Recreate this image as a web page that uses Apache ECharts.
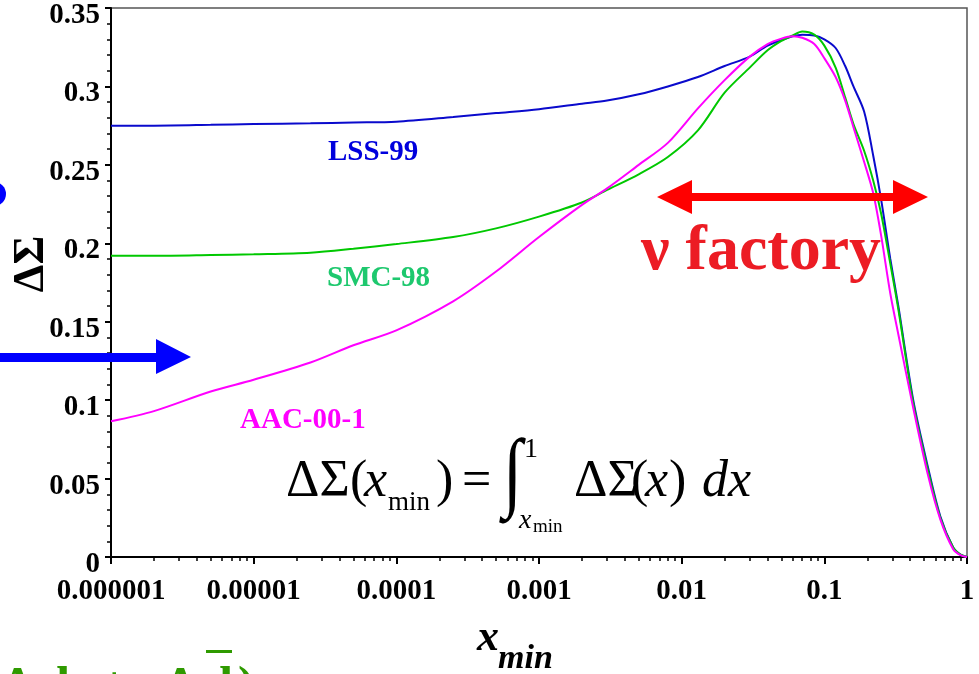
<!DOCTYPE html>
<html>
<head>
<meta charset="utf-8">
<script src="https://cdn.jsdelivr.net/npm/echarts@6/dist/echarts.min.js"></script>
<style>
  html, body { margin: 0; padding: 0; background: #fff; }
  #chart { width: 979px; height: 674px; }
</style>
</head>
<body>
<div id="chart"></div>
<script>
// x_min grid shared by the three curves
const xGrid = [1e-6, 2e-6, 5e-6, 1e-5, 2.5e-5, 5e-5, 1e-4, 2.5e-4, 5e-4, 1e-3,
  2e-3, 3e-3, 5e-3, 8e-3, 0.013, 0.02, 0.03, 0.04, 0.05, 0.06,
  0.07, 0.085, 0.1, 0.12, 0.14, 0.16, 0.19, 0.22, 0.25, 0.29,
  0.33, 0.42, 0.53, 0.65, 0.8, 0.9, 1];

const lss99 = [0.275, 0.275, 0.2755, 0.276, 0.2765, 0.277, 0.2775, 0.2805, 0.283, 0.2855,
  0.289, 0.291, 0.295, 0.300, 0.306, 0.313, 0.319, 0.326, 0.3295, 0.332,
  0.333, 0.3325, 0.330, 0.3245, 0.313, 0.300, 0.284, 0.256, 0.228, 0.19,
  0.16, 0.100, 0.058, 0.026, 0.006, 0.0015, 0];

const smc98 = [0.192, 0.192, 0.1925, 0.193, 0.194, 0.1965, 0.1995, 0.204, 0.2095, 0.217,
  0.226, 0.234, 0.244, 0.255, 0.272, 0.296, 0.312, 0.323, 0.329, 0.3325,
  0.335, 0.333, 0.326, 0.312, 0.293, 0.276, 0.259, 0.240, 0.219, 0.187,
  0.158, 0.098, 0.056, 0.025, 0.006, 0.0015, 0];

const aac001 = [0.0865, 0.093, 0.1055, 0.113, 0.124, 0.135, 0.1445, 0.163, 0.182, 0.204,
  0.2245, 0.235, 0.250, 0.264, 0.286, 0.304, 0.319, 0.327, 0.3305, 0.332,
  0.331, 0.327, 0.318, 0.306, 0.291, 0.274, 0.252, 0.232, 0.205, 0.168,
  0.142, 0.095, 0.053, 0.024, 0.005, 0.0012, 0];

const xTickValues = [1e-6, 1e-5, 1e-4, 1e-3, 0.01, 0.1, 1];
const xTickLabels = ['0.000001', '0.00001', '0.0001', '0.001', '0.01', '0.1', '1'];

// minor ticks 2..9 in each decade
const xMinorTicks = [];
xTickValues.slice(0, -1).forEach(d => {
  for (let k = 2; k <= 9; k++) xMinorTicks.push(+(d * k).toPrecision(3));
});

const SERIF = "'Liberation Serif', 'DejaVu Serif', serif";

function pairs(vals) {
  return xGrid.map((x, i) => [x, vals[i]]);
}

// text placed (roughly) by its baseline
function txt(text, left, base, size, extra) {
  return {
    type: 'text',
    x: left,
    y: base - 0.24 * size,
    z: 100,
    style: Object.assign({
      text: text,
      fill: '#000',
      fontFamily: SERIF,
      fontSize: size,
      align: 'left',
      verticalAlign: 'middle'
    }, extra || {})
  };
}

const ital = { fontStyle: 'italic' };
const green = { fontWeight: 'bold', fill: '#2f9a00' };

let myChart = echarts.init(document.getElementById('chart'));

// integral sign, a bit narrower than the font's own glyph
const integral = txt('∫', 503, 498, 88);
integral.scaleX = 0.8;

myChart.setOption({
  animation: false,
  grid: {
    left: 111,
    right: 12,
    top: 8,
    bottom: 117,
    outerBoundsMode: 'none',
    show: true,
    borderColor: '#555',
    borderWidth: 1.5
  },
  xAxis: [
    {
      type: 'log',
      logBase: 10,
      min: 1e-6,
      max: 1,
      axisLine: { lineStyle: { color: '#000', width: 2 } },
      axisTick: { customValues: xTickValues, length: 7, lineStyle: { color: '#000', width: 2 } },
      axisLabel: {
        customValues: xTickValues,
        margin: 20,
        color: '#000',
        fontFamily: SERIF,
        fontWeight: 'bold',
        fontSize: 29,
        formatter: v => xTickLabels[Math.round(Math.log10(v)) + 6]
      },
      splitLine: { show: false }
    },
    {
      // minor ticks only
      type: 'log',
      logBase: 10,
      min: 1e-6,
      max: 1,
      position: 'bottom',
      offset: 0,
      axisLine: { show: false },
      axisTick: { customValues: xMinorTicks, length: 4, lineStyle: { color: '#000', width: 1.5 } },
      axisLabel: { show: false },
      splitLine: { show: false }
    }
  ],
  yAxis: {
    type: 'value',
    min: 0,
    max: 0.35,
    interval: 0.05,
    axisLine: { show: true, lineStyle: { color: '#000', width: 2 } },
    axisTick: { show: true, length: 6, lineStyle: { color: '#000', width: 2 } },
    minorTick: { show: true, splitNumber: 5, length: 4, lineStyle: { color: '#000', width: 1.5 } },
    axisLabel: {
      margin: 11,
      verticalAlign: 'top',
      lineHeight: 15,
      color: '#000',
      fontFamily: SERIF,
      fontWeight: 'bold',
      fontSize: 29
    },
    splitLine: { show: false }
  },
  series: [
    {
      name: 'LSS-99',
      type: 'line',
      data: pairs(lss99),
      showSymbol: false,
      smooth: 0.3,
      lineStyle: { color: '#0a0acc', width: 2 }
    },
    {
      name: 'SMC-98',
      type: 'line',
      data: pairs(smc98),
      showSymbol: false,
      smooth: 0.3,
      lineStyle: { color: '#00c800', width: 2 }
    },
    {
      name: 'AAC-00-1',
      type: 'line',
      data: pairs(aac001),
      showSymbol: false,
      smooth: 0.3,
      lineStyle: { color: '#ff00ff', width: 2 }
    }
  ],
  graphic: [
    // curve labels
    txt('LSS-99', 328, 159, 29, { fontWeight: 'bold', fill: '#0000dd' }),
    txt('SMC-98', 327, 285, 29, { fontWeight: 'bold', fill: '#1ec86e' }),
    txt('AAC-00-1', 240, 427, 29, { fontWeight: 'bold', fill: '#ff00ff' }),

    // axis names
    {
      type: 'text', x: 32, y: 264, rotation: Math.PI / 2, z: 100,
      style: { text: 'ΔΣ', fill: '#000', fontFamily: SERIF, fontWeight: 'bold', fontSize: 44, align: 'center', verticalAlign: 'middle' }
    },
    txt('x', 477, 649, 44, { fontWeight: 'bold', fontStyle: 'italic' }),
    txt('min', 498, 667, 34, { fontWeight: 'bold', fontStyle: 'italic' }),

    // formula
    txt('ΔΣ', 286, 495, 52),
    txt('(', 350, 495, 52),
    txt('x', 364, 495, 52, ital),
    txt('min', 388, 509, 27),
    txt(')', 436, 495, 52),
    txt('=', 462, 495, 52),
    integral,
    txt('1', 524, 456, 28),
    txt('x', 519, 527, 28, ital),
    txt('min', 533, 532, 19),
    txt('ΔΣ', 574, 495, 52),
    txt('(', 631, 495, 52),
    txt('x', 645, 495, 52, ital),
    txt(')', 669, 495, 52),
    txt('dx', 702, 495, 52, ital),

    // ν factory
    {
      type: 'polygon', z: 90,
      shape: { points: [[657, 197], [692, 180], [692, 193], [893, 193], [893, 180], [928, 197], [893, 214], [893, 201], [692, 201], [692, 214]] },
      style: { fill: '#ff0000' }
    },
    txt('ν factory', 641, 268, 64, { fontWeight: 'bold', fill: '#ec1c24' }),

    // blue arrow and blob on the left edge
    {
      type: 'polygon', z: 90,
      shape: { points: [[0, 353], [156, 353], [156, 339], [191, 357], [156, 374], [156, 362], [0, 362]] },
      style: { fill: '#0000ff' }
    },
    {
      type: 'circle', z: 90,
      shape: { cx: -6, cy: 194, r: 12 },
      style: { fill: '#0000ff' }
    },

    // cut-off green text at the bottom
    txt('Δ', 2, 700, 50, green),
    txt('d', 42, 700, 50, green),
    txt('+', 100, 700, 50, green),
    txt('Δ', 165, 700, 50, green),
    txt('d', 205, 700, 50, green),
    txt(')', 238, 700, 50, green),
    {
      type: 'rect', z: 100,
      shape: { x: 206, y: 650, width: 26, height: 3 },
      style: { fill: '#2f9a00' }
    }
  ]
});

window.addEventListener('resize', () => {
  myChart.resize();
});
</script>
</body>
</html>
